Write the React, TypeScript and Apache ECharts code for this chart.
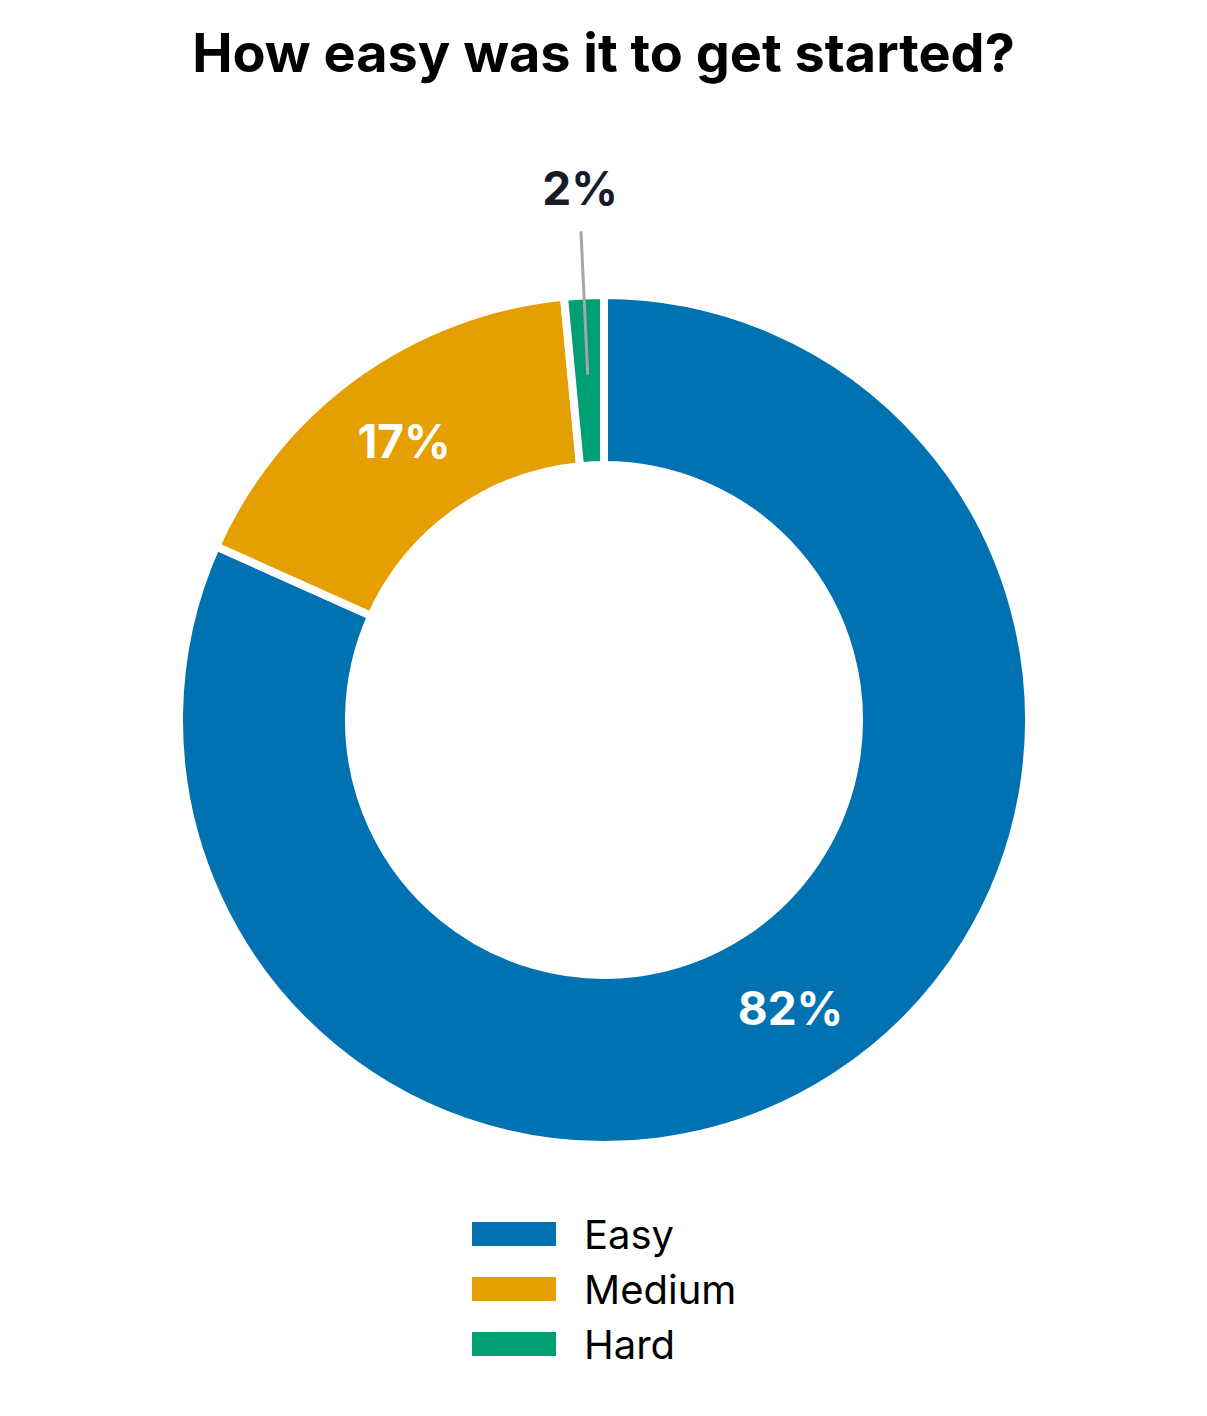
import React, { useEffect, useRef } from "react";
import * as echarts from "echarts";

const TITLE = "How easy was it to get started?";
const categories = ["Easy", "Medium", "Hard"];
const values = [81.7, 16.8, 1.5];
const colors = ["#0072B2", "#E69F00", "#009E73"];
const FONT = "Inter, 'Noto Sans', sans-serif";

export default function App() {
  const ref = useRef<HTMLDivElement>(null);
  useEffect(() => {
    document.body.style.margin = "0";
    const chart = echarts.init(ref.current!, undefined, { renderer: "svg" });
    const fmt = (p: any) => Math.round(p.value) + "%";
    const mainData = categories.map((name, i) => ({
      name,
      value: values[i],
      itemStyle: { color: colors[i] },
      label: { show: i < 2 },
    }));
    const overlayData = categories.map((name, i) => ({
      name,
      value: values[i],
      label: { show: i === 2 },
      labelLine: { show: i === 2 },
    }));
    chart.setOption({
      animation: false,
      backgroundColor: "#ffffff",
      title: {
        text: TITLE,
        left: "center",
        top: 20,
        textStyle: { fontFamily: FONT, fontSize: 54, fontWeight: "bold", color: "#000000" },
      },
      legend: {
        orient: "vertical",
        left: 467,
        top: 1209,
        icon: "rect",
        itemWidth: 84,
        itemHeight: 24,
        itemGap: 15,
        data: categories,
        itemStyle: { borderWidth: 0 },
        textStyle: { fontFamily: FONT, fontSize: 40, color: "#000000", padding: [0, 0, 0, 23] },
      },
      series: [
        {
          type: "pie",
          center: [604, 720],
          radius: [255, 425],
          startAngle: 90,
          clockwise: true,
          avoidLabelOverlap: false,
          silent: true,
          itemStyle: { borderColor: "#ffffff", borderWidth: 8 },
          label: {
            position: "inside",
            formatter: fmt,
            color: "#ffffff",
            fontFamily: FONT,
            fontSize: 46,
            fontWeight: "bold",
          },
          labelLine: { show: false },
          data: mainData,
        },
        {
          type: "pie",
          center: [604, 720],
          radius: [0, 347],
          startAngle: 90,
          clockwise: true,
          avoidLabelOverlap: false,
          silent: true,
          z: 5,
          itemStyle: { color: "rgba(0,0,0,0)", borderWidth: 0 },
          label: {
            position: "outside",
            formatter: (p: any) => Math.round(p.value) + "%\n ",
            color: "#161b2b",
            fontFamily: FONT,
            fontSize: 46,
            fontWeight: "bold",
            lineHeight: 90,
            distanceToLabelLine: -37,
          },
          labelLine: {
            length: 141,
            length2: 0,
            lineStyle: { color: "#a2a6af", width: 3, cap: "round" },
          },
          data: overlayData,
        },
      ],
    });
    return () => chart.dispose();
  }, []);
  return <div ref={ref} style={{ width: 1207, height: 1416 }} />;
}
